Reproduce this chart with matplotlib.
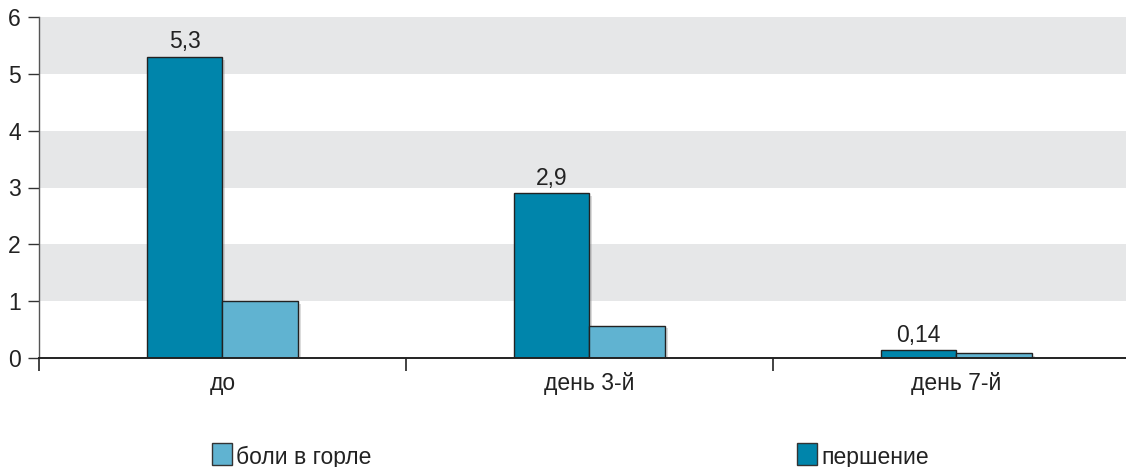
import matplotlib
matplotlib.use("Agg")
import matplotlib.pyplot as plt
import matplotlib.patheffects as pe
from matplotlib.patches import Rectangle
import numpy as np

plt.rcParams['font.family'] = ['Liberation Sans', 'DejaVu Sans']

categories = ["до", "день 3-й", "день 7-й"]
pershenie = [5.3, 2.9, 0.14]          # першение
boli_v_gorle = [1.0, 0.57, 0.08]      # боли в горле
value_labels = ["5,3", "2,9", "0,14"]
y_ticks = [0, 1, 2, 3, 4, 5, 6]

dark = "#0085ab"
light = "#60b3d1"
band = "#e6e7e8"
edge = "#222222"
txt = "#222222"
fs = 16.5

fig = plt.figure(figsize=(11.26, 4.67), dpi=100)
ax = fig.add_axes([39 / 1126, 1 - 358 / 467, 1 - 39 / 1126, (358 - 17) / 467])

# alternating horizontal bands
for lo in (1, 3, 5):
    ax.axhspan(lo, lo + 1, color=band, lw=0, zorder=0)

x = np.arange(len(categories))
w = 0.206
shadow = [pe.SimplePatchShadow(offset=(2, -2), shadow_rgbFace="#999999", alpha=0.35), pe.Normal()]
b1 = ax.bar(x - w / 2, pershenie, w, color=dark, edgecolor=edge, linewidth=1.0, zorder=3)
b2 = ax.bar(x + w / 2, boli_v_gorle, w, color=light, edgecolor=edge, linewidth=1.0, zorder=3)
for b in list(b1) + list(b2):
    b.set_path_effects(shadow)

for xi, v, lab in zip(x, pershenie, value_labels):
    ax.text(xi - w / 2, v + 0.06, lab, ha="center", va="bottom", fontsize=fs, color=txt, zorder=4)

ax.set_xlim(-0.5, -0.5 + 1087 / 367)
ax.set_ylim(0, 6)
ax.set_yticks(y_ticks)
ax.set_yticklabels([str(t) for t in y_ticks])
ax.set_xticks(x)
ax.set_xticklabels(categories)
ax.set_xticks([-0.5, 0.5, 1.5], minor=True)
ax.tick_params(axis="x", which="major", length=0, pad=10, labelsize=fs, colors=txt)
ax.tick_params(axis="x", which="minor", length=9, width=1.2, color="#222222", direction="out")
ax.tick_params(axis="y", length=8, width=1.0, color="#333333", pad=5, labelsize=fs, labelcolor=txt)

for s in ("top", "right"):
    ax.spines[s].set_visible(False)
ax.spines["left"].set_color("#555555")
ax.spines["left"].set_linewidth(1.0)
ax.spines["bottom"].set_color("#222222")
ax.spines["bottom"].set_linewidth(1.4)
ax.spines["bottom"].set_zorder(5)

# legend drawn at the bottom of the figure
def legend_item(px, label, color):
    fig.patches.append(Rectangle((px / 1126, 1 - 465 / 467), 20 / 1126, 22 / 467,
                                 transform=fig.transFigure, facecolor=color,
                                 edgecolor="#333333", linewidth=1.0))
    fig.text((px + 24) / 1126, 1 - 464 / 467, label, ha="left", va="baseline",
             fontsize=fs, color=txt)

legend_item(212, "боли в горле", light)
legend_item(797, "першение", dark)

fig.savefig("out.png", dpi=100)
